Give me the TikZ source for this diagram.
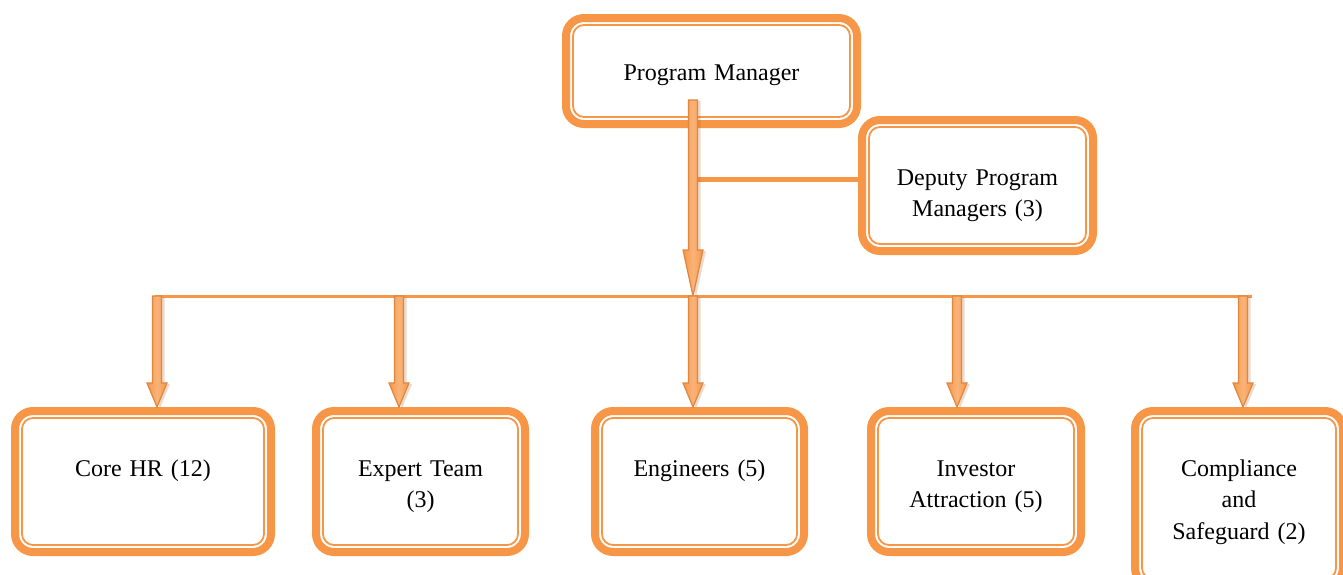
\documentclass[tikz,border=0pt]{standalone}
\usepackage{fontspec}
\setmainfont{Liberation Serif}
\usepackage{tikz}
\usetikzlibrary{calc, shadows}
\definecolor{ChartOrange}{HTML}{F79646}
\definecolor{ChartPeach}{HTML}{FAC090}
\definecolor{ChartShade}{HTML}{B46A32}

% block arrow: from, to, head length
\newcommand{\flowarrow}[3]{%
  \path[flow] ($(#1)+(-4.5,0)$) -- ($(#2)+(-4.5,-#3)$) -- ($(#2)+(-10,-#3)$) -- (#2)
    -- ($(#2)+(10,-#3)$) -- ($(#2)+(4.5,-#3)$) -- ($(#1)+(4.5,0)$) -- cycle;}

\begin{document}
\begin{tikzpicture}[x=0.5pt, y=-0.5pt, every node/.style={font=\fontsize{12}{15.8}\selectfont}]
      \tikzset{
        unit/.style={rectangle, rounded corners=9pt, draw=ChartOrange, line width=4pt, outer sep=2pt, fill=white, align=center, inner sep=2pt, text height=9pt},
        member/.style={unit, minimum height=70.5pt, text width=95pt, text depth=14.5pt},
        rim/.style={draw=ChartOrange, line width=0.9pt, rounded corners=5.5pt},
        flow/.style={draw=ChartOrange!90!black, line width=0.6pt, left color=ChartOrange, right color=ChartOrange, middle color=ChartPeach!70!ChartOrange, drop shadow={shadow xshift=1.5pt, shadow yshift=-0.5pt, opacity=0.25, fill=ChartShade}},
        link/.style={draw=ChartOrange, line width=2.5pt},
        bus/.style={draw=ChartOrange, line width=1.5pt}
      }
      \useasboundingbox (0,0) rectangle (1343,574);
      \clip (0,0) rectangle (1343,574);

      % Nodes
      \node[unit, minimum width=145.5pt, minimum height=53pt, text width=130pt, text depth=0pt] (pm) at (711.5,71) {Program Manager};
      \node[unit, minimum width=115.5pt, minimum height=65.5pt, text width=100pt, text depth=9.5pt] (dpm) at (977.5,185.5) {Deputy Program\\Managers (3)};

      \node[member, minimum width=128pt] (core) at (143,481.5) {Core HR (12)};
      \node[member, minimum width=104.5pt] (expert) at (420.5,481.5) {Expert Team\\(3)};
      \node[member, minimum width=104.5pt] (eng) at (699.5,481.5) {Engineers (5)};
      \node[member, minimum width=105pt] (investor) at (976,481.5) {Investor\\Attraction (5)};
      \node[unit, minimum width=104pt, minimum height=87.5pt, text width=95pt, text depth=31.5pt] (comp) at (1239,498.5) {Compliance\\and\\Safeguard (2)};

      \foreach \n in {pm, dpm, core, expert, eng, investor, comp}
        \draw[rim] ([shift={(5.5pt,-5.5pt)}]\n.north west) rectangle ([shift={(-5.5pt,5.5pt)}]\n.south east);

      % Connections
      \coordinate (top) at (693,100);
      \coordinate (hub) at (693,296);
      \coordinate (dj) at (693,179);
      \coordinate (busl) at (155,296);
      \coordinate (busr) at (1252,296);

      \draw[link] (dj) -- (dj -| dpm.west);
      \flowarrow{top}{hub}{46}
      \draw[bus] (busl) -- (busr);

      \foreach \x/\n in {157/core, 399/expert, 693/eng, 957/investor, 1243/comp} {
        \coordinate (tap-\n) at (\x,296);
        \coordinate (drop-\n) at (tap-\n |- \n.north);
        \flowarrow{tap-\n}{drop-\n}{24}
      }

\end{tikzpicture}
\end{document}
